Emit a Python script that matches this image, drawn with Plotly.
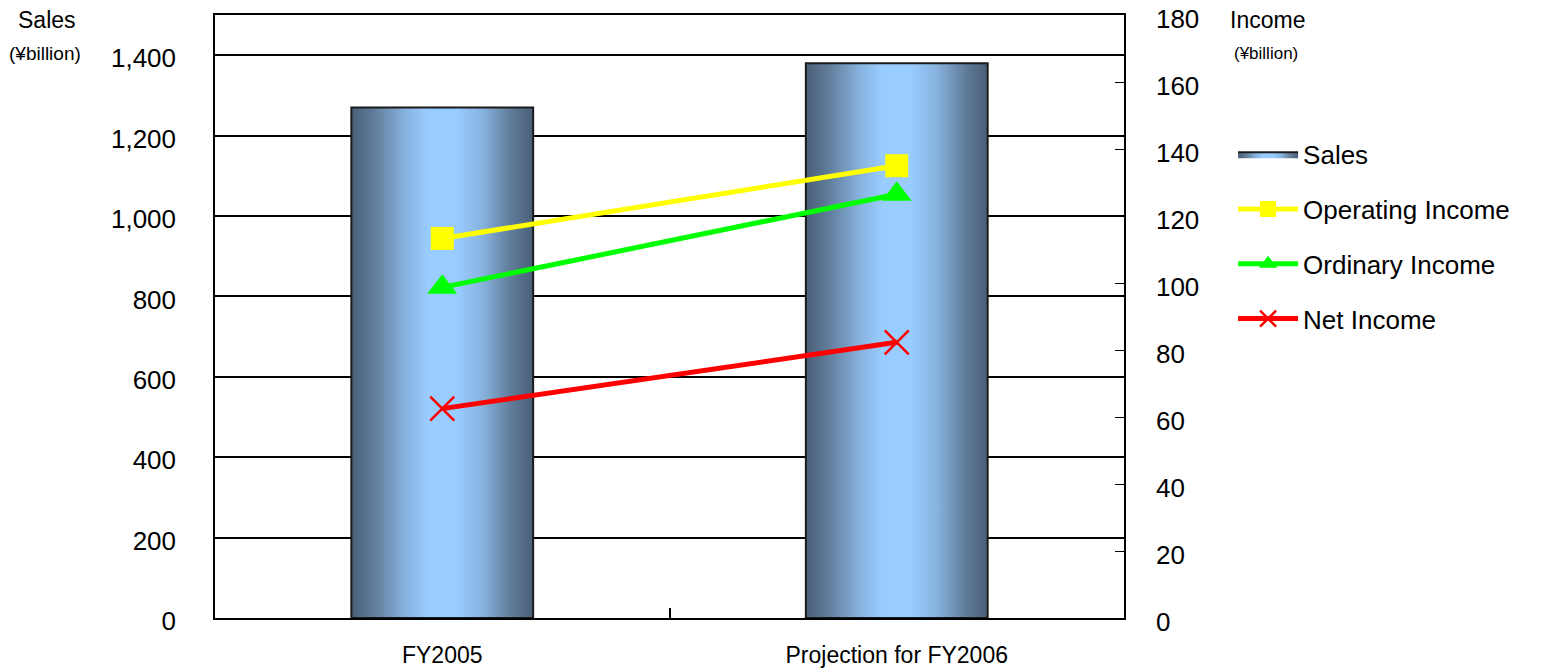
import plotly.graph_objects as go

categories = ["FY2005", "Projection for FY2006"]
sales = [1270, 1380]
operating_income = [113.3, 135.0]
ordinary_income = [98.7, 126.5]
net_income = [62.5, 82.3]

left_ticks = [0, 200, 400, 600, 800, 1000, 1200, 1400]
right_ticks = [0, 20, 40, 60, 80, 100, 120, 140, 160, 180]

FONT = "Liberation Sans, Arial, sans-serif"
BAR_HALF = 0.2
bar_scale = [[0.0, "#4a5f78"], [0.12, "#5f7b98"], [0.3, "#88b3df"], [0.42, "#99ccff"],
             [0.58, "#99ccff"], [0.72, "#88b3df"], [0.88, "#5f7b98"], [1.0, "#4a5f78"]]

idx = list(range(len(categories)))
fig = go.Figure()

for i, (xi, v) in enumerate(zip(idx, sales)):
    fig.add_trace(go.Scatter(
        x=[xi - BAR_HALF, xi - BAR_HALF, xi + BAR_HALF, xi + BAR_HALF, xi - BAR_HALF],
        y=[0, v, v, 0, 0],
        mode="lines", fill="toself",
        fillgradient=dict(type="horizontal", colorscale=bar_scale),
        line=dict(color="#1a1a1a", width=2),
        name="Sales", legendgroup="sales", showlegend=(i == 0),
        hoverinfo="skip", yaxis="y",
    ))

fig.add_trace(go.Scatter(x=idx, y=operating_income, yaxis="y2", name="Operating Income",
                         legendgroup="op", mode="lines+markers",
                         line=dict(color="#ffff00", width=5),
                         marker=dict(symbol="square", size=23, color="#ffff00")))
fig.add_trace(go.Scatter(x=idx, y=ordinary_income, yaxis="y2", name="Ordinary Income",
                         legendgroup="ord", mode="lines+markers",
                         line=dict(color="#00ff00", width=5),
                         marker=dict(symbol="triangle-up", size=26, color="#00ff00")))
fig.add_trace(go.Scatter(x=idx, y=net_income, yaxis="y2", name="Net Income",
                         legendgroup="net", mode="lines+markers",
                         line=dict(color="#ff0000", width=5),
                         marker=dict(symbol="x-thin-open", size=24,
                                     line=dict(color="#ff0000", width=2.5))))

fig.update_layout(
    width=1542, height=662,
    margin=dict(l=207, r=426, t=7, b=52, autoexpand=False),
    paper_bgcolor="white", plot_bgcolor="white",
    font=dict(family=FONT, color="black", size=24),
    xaxis=dict(range=[-0.5, 1.5], tickmode="array", tickvals=[0, 0.5, 1],
               ticktext=[categories[0], "", categories[1]],
               ticks="inside", ticklen=10, tickwidth=2, tickcolor="black",
               showline=True, linecolor="black", linewidth=2, mirror=True,
               showgrid=False, zeroline=False, layer="below traces", automargin=False,
               tickfont=dict(size=23), ticklabelstandoff=15),
    yaxis=dict(range=[0, 1500], tickmode="array", tickvals=left_ticks,
               tickformat=",d", showgrid=True, gridcolor="black", gridwidth=1.5,
               showline=True, linecolor="black", linewidth=1.5, ticks="",
               zeroline=False, layer="below traces", automargin=False,
               ticklabeloverflow="allow", ticklabelshift=3,
               tickfont=dict(size=26), ticklabelstandoff=32),
    yaxis2=dict(range=[0, 180], tickmode="array", tickvals=right_ticks,
                overlaying="y", side="right", showgrid=False,
                showline=True, linecolor="black", linewidth=1.5,
                ticks="inside", ticklen=9, tickcolor="black",
                zeroline=False, layer="below traces", automargin=False,
                ticklabeloverflow="allow", ticklabelshift=4,
                tickfont=dict(size=26), ticklabelstandoff=25),
    legend=dict(x=1.12, y=0.808, xanchor="left", yanchor="top",
                font=dict(size=26), tracegroupgap=18, itemwidth=60,
                bgcolor="rgba(0,0,0,0)"),
    showlegend=True,
    annotations=[
        dict(text="Sales", xref="paper", yref="paper", x=-0.2185, y=1.0, xanchor="left",
             yanchor="middle", yshift=-5, showarrow=False, font=dict(size=23)),
        dict(text="(¥billion)", xref="paper", yref="paper", x=-0.2285, y=1.0, xanchor="left",
             yanchor="middle", yshift=-38, showarrow=False, font=dict(size=19)),
        dict(text="Income", xref="paper", yref="paper", x=1.114, y=1.0, xanchor="left",
             yanchor="middle", yshift=-5, showarrow=False, font=dict(size=23)),
        dict(text="(¥billion)", xref="paper", yref="paper", x=1.1188, y=1.0, xanchor="left",
             yanchor="middle", yshift=-38, showarrow=False, font=dict(size=17)),
    ],
)

fig.write_html("out.html")
